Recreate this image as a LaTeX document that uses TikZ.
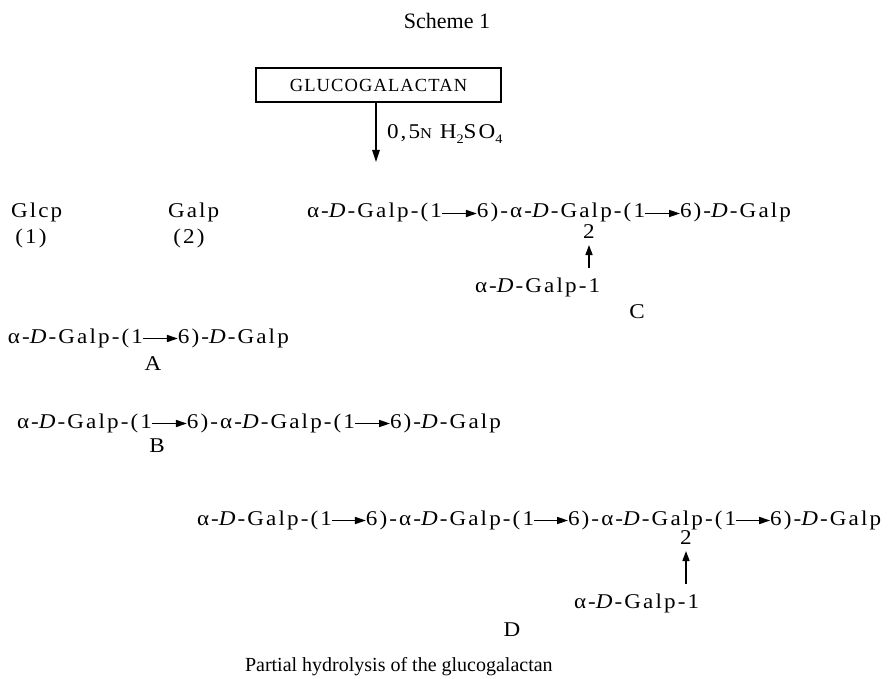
\documentclass[tikz,border=0pt]{standalone}
\usepackage{fontspec}
\setmainfont{Liberation Serif}
\newfontfamily\chainfont[LetterSpace=10,FakeStretch=1.1]{Liberation Serif}
\newfontfamily\boxfont[LetterSpace=6]{Liberation Serif}
\usetikzlibrary{arrows.meta,positioning}
\begin{document}
\begin{tikzpicture}[x=1pt,y=-1pt,
  every node/.style={inner sep=0pt, outer sep=0pt},
  unit/.style={anchor=base west, font=\chainfont\fontsize{21}{23}\selectfont, text height=14pt, text depth=5pt},
  lbl/.style={anchor=base, font=\chainfont\fontsize{21}{23}\selectfont},
  link/.style={line width=1.6pt, -{Triangle[length=11pt,width=7pt]}},
  vlink/.style={line width=1.5pt, -{Triangle[length=10pt,width=7pt]}},
  mainarrow/.style={line width=1.3pt, -{Triangle[length=12pt,width=7.5pt]}}]
\useasboundingbox (0,0) rectangle (891,679);
% title
\node[anchor=base, font=\fontsize{22}{24}\selectfont] (title) at (447,29) {Scheme 1};
% starting material
\node[draw, line width=1.3pt, minimum width=245pt, minimum height=34pt,
      font=\boxfont\fontsize{18.5}{20}\selectfont] (gl) at (378.5,85) {GLUCOGALACTAN};
\coordinate (hy) at (376,162);
\draw[mainarrow] (gl.south -| hy) -- (hy);
\node[anchor=base west, font=\chainfont\fontsize{21}{23}\selectfont] (acid) at (387,139)
  {0,5{\fontsize{15}{15}\selectfont N} H\raisebox{-4.5pt}{\fontsize{13}{13}\selectfont 2}SO\raisebox{-4.5pt}{\fontsize{13}{13}\selectfont 4}};
% monosaccharides
\node[unit] (glc) at (11,218) {Glcp};
\node[lbl] (n1) at (31,243) {(1)};
\node[unit] (gal) at (168,218) {Galp};
\node[lbl] (n2) at (189,243) {(2)};
% C
\node[unit] (c1) at (307,218) {α-\textit{D}-Galp-(1};
\node[unit, right=35pt of c1] (c2) {6)-α-\textit{D}-Galp-(1};
\node[unit, right=35pt of c2] (c3) {6)-\textit{D}-Galp};
\draw[link] (c1) -- (c2);
\draw[link] (c2) -- (c3);
\node[lbl] (cpos) at (589,238) {2};
\node[unit] (cb) at (475,292) {α-\textit{D}-Galp-1};
\draw[vlink, shorten <=10pt, shorten >=7pt] (cb.north -| cpos) -- (cpos.south);
\node[lbl] (lc) at (637,318) {C};
% A
\node[unit] (a1) at (8,343) {α-\textit{D}-Galp-(1};
\node[unit, right=35pt of a1] (a2) {6)-\textit{D}-Galp};
\draw[link] (a1) -- (a2);
\node[lbl] (la) at (153,370) {A};
% B
\node[unit] (b1) at (17,428) {α-\textit{D}-Galp-(1};
\node[unit, right=35pt of b1] (b2) {6)-α-\textit{D}-Galp-(1};
\node[unit, right=35pt of b2] (b3) {6)-\textit{D}-Galp};
\draw[link] (b1) -- (b2);
\draw[link] (b2) -- (b3);
\node[lbl] (lb) at (157,452) {B};
% D
\node[unit] (d1) at (197,525) {α-\textit{D}-Galp-(1};
\node[unit, right=34pt of d1] (d2) {6)-α-\textit{D}-Galp-(1};
\node[unit, right=34pt of d2] (d3) {6)-α-\textit{D}-Galp-(1};
\node[unit, right=34pt of d3] (d4) {6)-\textit{D}-Galp};
\draw[link] (d1) -- (d2);
\draw[link] (d2) -- (d3);
\draw[link] (d3) -- (d4);
\node[lbl] (dpos) at (686,544) {2};
\node[unit] (db) at (574,608) {α-\textit{D}-Galp-1};
\draw[vlink, shorten <=10pt, shorten >=7pt] (db.north -| dpos) -- (dpos.south);
\node[lbl] (ld) at (512,636) {D};
% caption
\node[anchor=base west, font=\fontsize{20}{22}\selectfont] (cap) at (245,671) {Partial hydrolysis of the glucogalactan};
\end{tikzpicture}
\end{document}
